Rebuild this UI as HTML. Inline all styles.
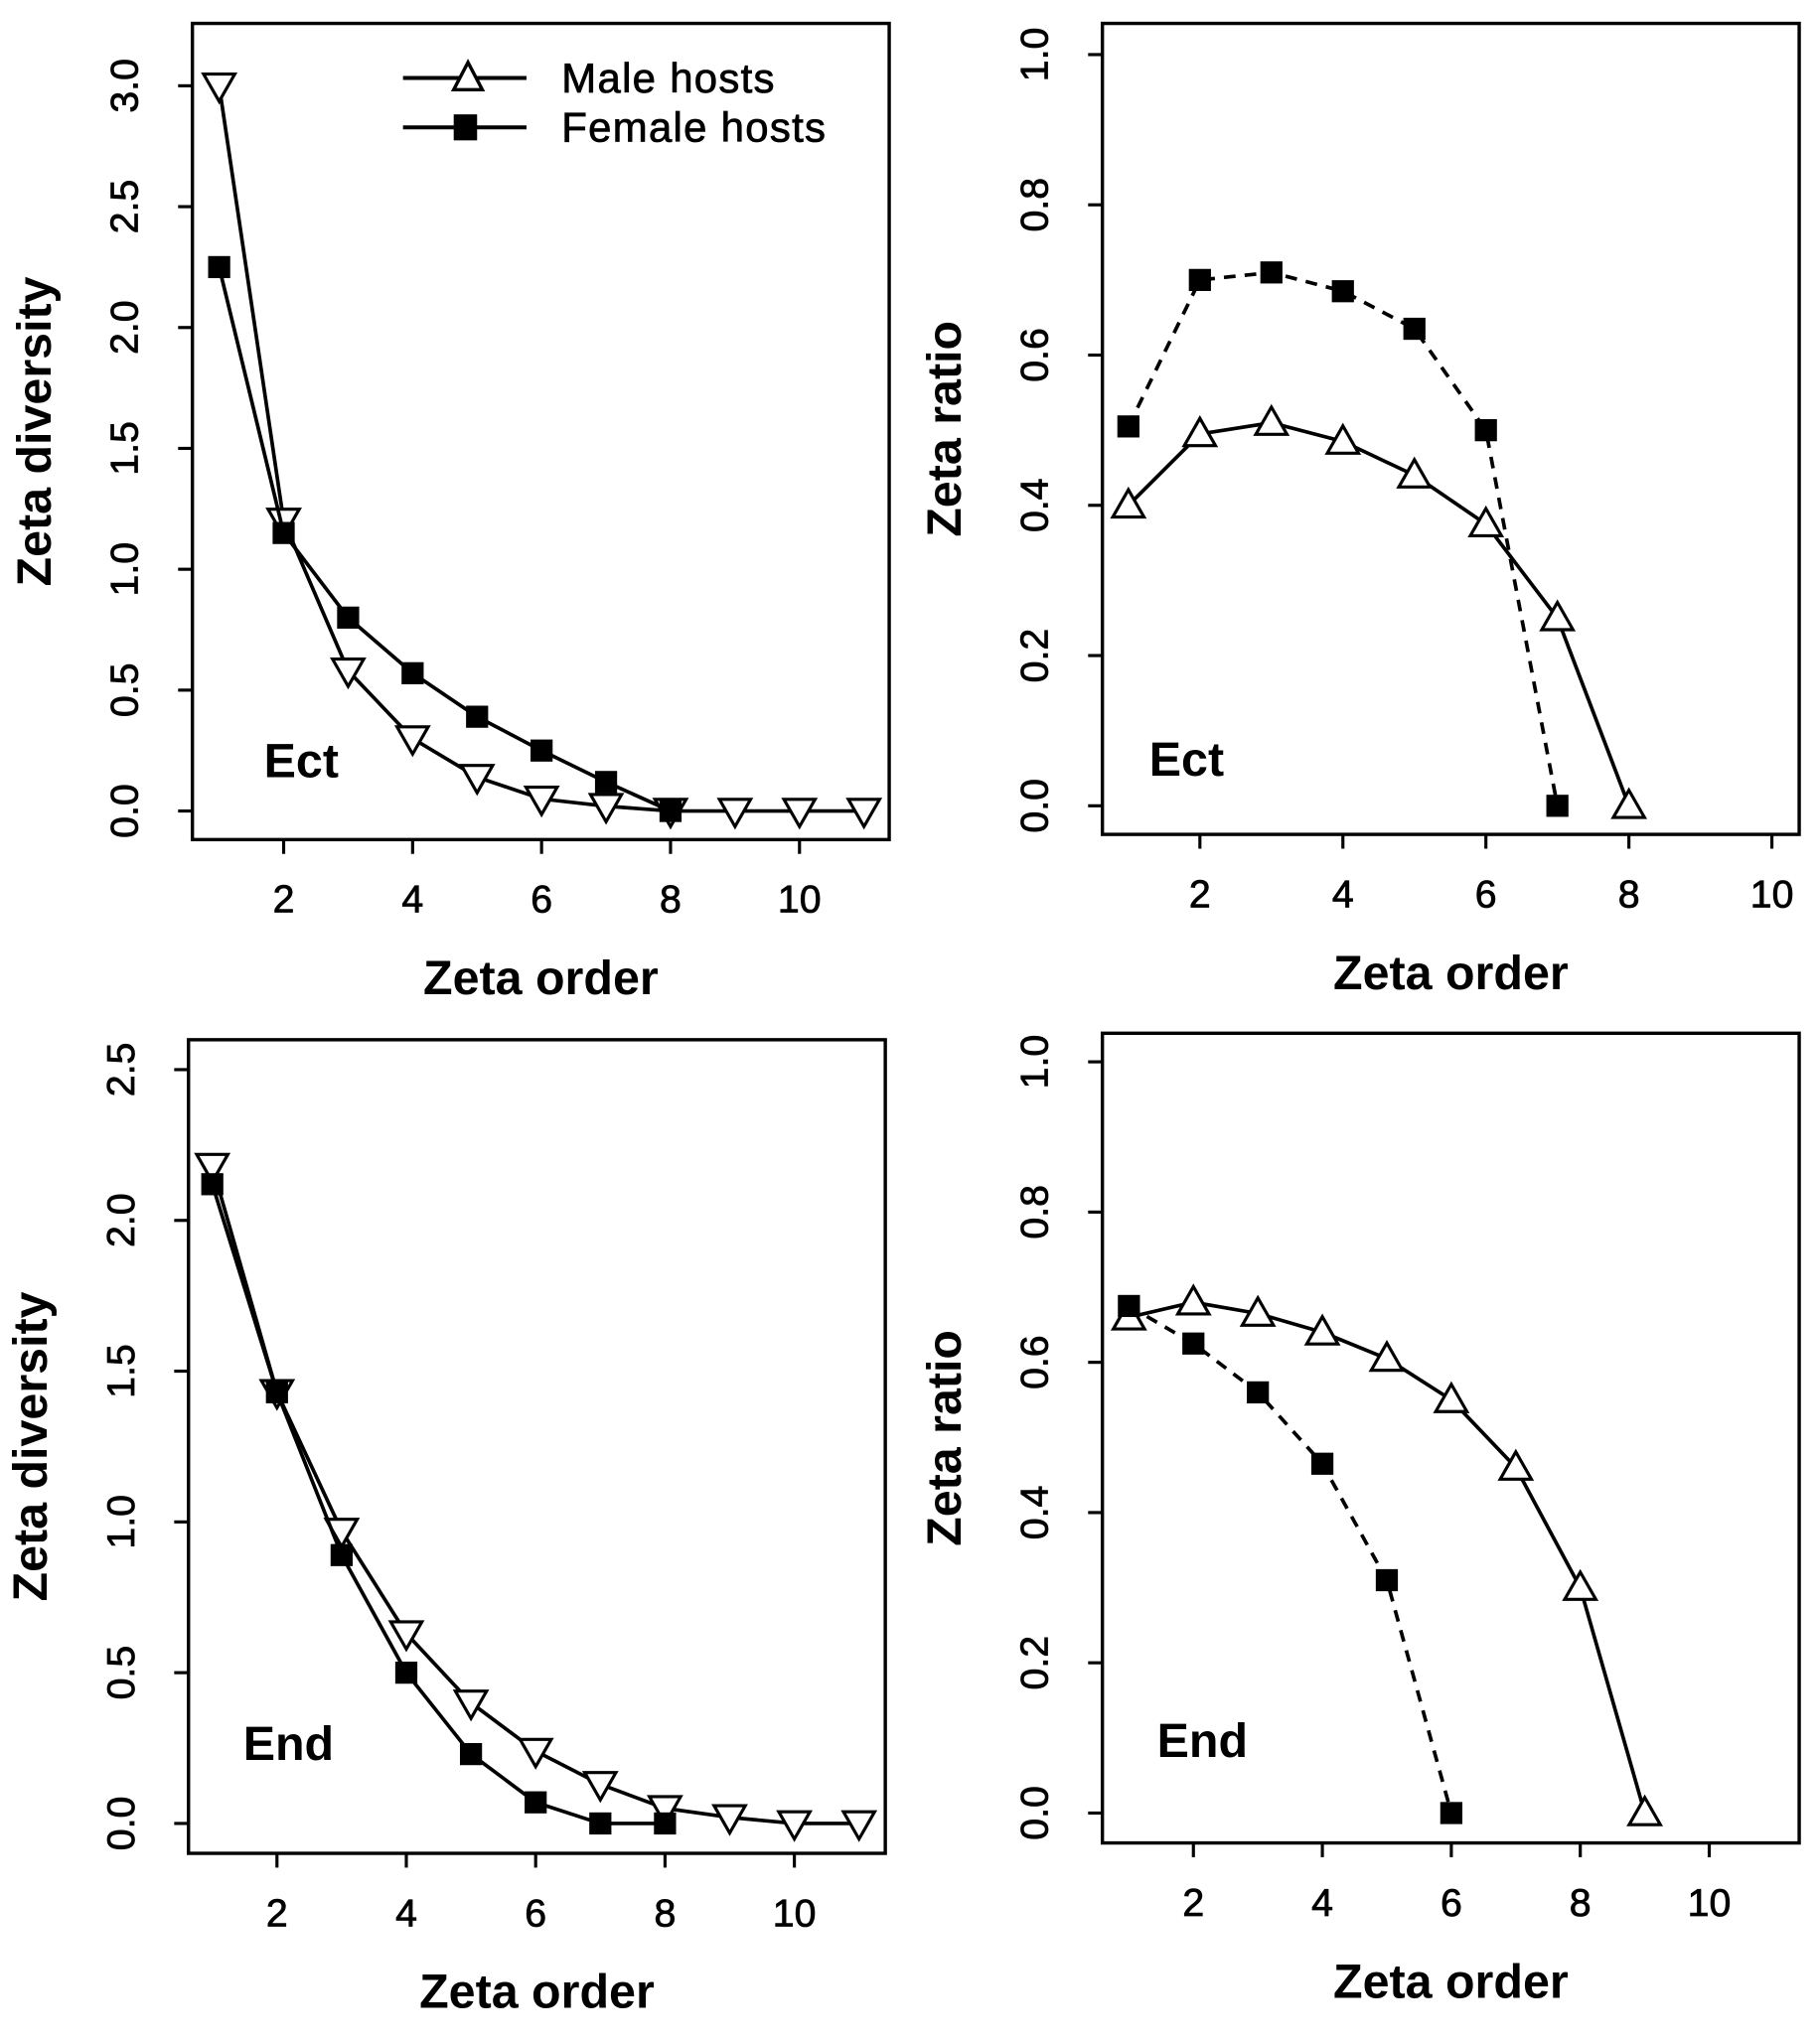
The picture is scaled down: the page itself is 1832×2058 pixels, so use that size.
<!DOCTYPE html>
<html><head><meta charset="utf-8"><style>
html,body{margin:0;padding:0;background:#fff;}
svg{display:block;}
text{font-family:"Liberation Sans",Arial,sans-serif;fill:#000;}
</style></head><body>
<svg id="chart" width="1832" height="2058" viewBox="0 0 1400 1572.7" xmlns="http://www.w3.org/2000/svg"></svg>
<script>
const orderAll = [1,2,3,4,5,6,7,8,9,10,11];
const ectDivMale = [3.0,1.2,0.58,0.3,0.14,0.05,0.02,0.0,0.0,0.0,0.0];
const ectDivFemale = [2.25,1.15,0.8,0.57,0.39,0.25,0.12,0.0];
const ectRatioMale = [0.40,0.495,0.51,0.485,0.44,0.375,0.25,0.0];
const ectRatioFemale = [0.505,0.70,0.71,0.685,0.635,0.5,0.0];
const endDivMale = [2.18,1.43,0.97,0.63,0.40,0.24,0.13,0.05,0.02,0.0,0.0];
const endDivFemale = [2.12,1.43,0.89,0.50,0.23,0.07,0.0,0.0];
const endRatioMale = [0.66,0.68,0.665,0.64,0.605,0.55,0.46,0.30,0.0];
const endRatioFemale = [0.675,0.625,0.56,0.465,0.31,0.0];
const xTicks = [2,4,6,8,10];
const divTicksEct = [0,0.5,1.0,1.5,2.0,2.5,3.0];
const divTicksEnd = [0,0.5,1.0,1.5,2.0,2.5];
const ratioTicks = [0,0.2,0.4,0.6,0.8,1.0];

const NS="http://www.w3.org/2000/svg";
const svg=document.getElementById('chart');
function mk(tag,attrs,parent){const e=document.createElementNS(NS,tag);for(const k in attrs)e.setAttribute(k,attrs[k]);(parent||svg).appendChild(e);return e;}

function panel(p){
  const g=mk('g',{});
  
  
  const sx=v=>p.x1+(v-1)*p.xu;
  const sy=v=>p.y0-v*p.yu;
  const box=mk('rect',{x:p.L,y:p.T,width:p.R-p.L,height:p.B-p.T,fill:'none',stroke:'#000','stroke-width':2.6},g);
  
  
  xTicks.forEach(t=>{
    mk('line',{x1:sx(t),x2:sx(t),y1:p.B,y2:p.B+11,stroke:'#000','stroke-width':2.4},g);
    const tx=mk('text',{x:sx(t),y:p.B+56,'font-size':30,'text-anchor':'middle',stroke:'#000','stroke-width':0.6},g);
    tx.textContent=t;
    
    
  });
  p.yt.forEach(t=>{
    mk('line',{x1:p.L-11,x2:p.L,y1:sy(t),y2:sy(t),stroke:'#000','stroke-width':2.4},g);
    const tx=mk('text',{x:0,y:0,'font-size':30,'text-anchor':'middle',stroke:'#000','stroke-width':0.6,transform:`translate(${p.L-42},${sy(t)}) rotate(-90)`},g);
    tx.textContent=t.toFixed(1);
    
    
  });
  const xl=mk('text',{x:(p.L+p.R)/2,y:p.B+119,'font-size':37,'font-weight':'bold','text-anchor':'middle'},g);
  xl.textContent='Zeta order';
  
  
  const yl=mk('text',{x:0,y:0,'font-size':37,'font-weight':'bold','text-anchor':'middle',transform:`translate(${p.L-109},${(p.T+p.B)/2}) rotate(-90)`},g);
  yl.textContent=p.ylab;
  
  
  const lab=mk('text',{x:p.labX,y:p.labY,'font-size':37,'font-weight':'bold'},g);
  lab.textContent=p.lab;
  
  
  function series(vals,dash,marker,name){
    const pts=vals.map((v,i)=>[sx(orderAll[i]),sy(v)]);
    const pl=mk('polyline',{points:pts.map(q=>q.join(',')).join(' '),fill:'none',stroke:'#000','stroke-width':2.8,'stroke-dasharray':dash?'9,7':'none'},g);
    
    
    pts.forEach(([x,y])=>{
      let m;
      if(marker==='sq'){m=mk('rect',{x:x-8.5,y:y-8.5,width:17,height:17,fill:'#000'},g);}
      else if(marker==='down'){m=mk('polygon',{points:`${x-12},${y-9} ${x+12},${y-9} ${x},${y+12}`,fill:'#fff',stroke:'#000','stroke-width':2.4},g);}
      else {m=mk('polygon',{points:`${x-12},${y+9} ${x+12},${y+9} ${x},${y-12}`,fill:'#fff',stroke:'#000','stroke-width':2.4},g);}
      
      
    });
  }
  p.series.forEach(s=>series(s.v,s.dash,s.m,s.n));
  return g;
}

panel({name:'panel-ect-diversity',L:148,R:684,T:18,B:646,x1:168.6,xu:49.6,y0:624,yu:186,yt:divTicksEct,ylab:'Zeta diversity',lab:'Ect',labX:203,labY:598,
  series:[{v:ectDivMale,dash:false,m:'down',n:'male'},{v:ectDivFemale,dash:false,m:'sq',n:'female'}]});
panel({name:'panel-ect-ratio',L:848,R:1384,T:18,B:642,x1:868,xu:55,y0:620,yu:578,yt:ratioTicks,ylab:'Zeta ratio',lab:'Ect',labX:884,labY:597,
  series:[{v:ectRatioMale,dash:false,m:'up',n:'male'},{v:ectRatioFemale,dash:true,m:'sq',n:'female'}]});
panel({name:'panel-end-diversity',L:145,R:681,T:800,B:1426,x1:163.3,xu:49.75,y0:1403,yu:232,yt:divTicksEnd,ylab:'Zeta diversity',lab:'End',labX:187,labY:1354,
  series:[{v:endDivMale,dash:false,m:'down',n:'male'},{v:endDivFemale,dash:false,m:'sq',n:'female'}]});
panel({name:'panel-end-ratio',L:848,R:1384,T:795,B:1418,x1:868.4,xu:49.6,y0:1395,yu:578,yt:ratioTicks,ylab:'Zeta ratio',lab:'End',labX:890,labY:1352,
  series:[{v:endRatioMale,dash:false,m:'up',n:'male'},{v:endRatioFemale,dash:true,m:'sq',n:'female'}]});

const lg=mk('g',{});


[[60,'up','Male hosts'],[98,'sq','Female hosts']].forEach(([y,m,t])=>{
  const e=mk('g',{},lg);
  
  
  mk('line',{x1:310,x2:405,y1:y,y2:y,stroke:'#000','stroke-width':3},e);
  if(m==='sq')mk('rect',{x:349,y:y-10,width:18,height:20,fill:'#000'},e);
  else mk('polygon',{points:`349,${y+9} 371,${y+9} 360,${y-12}`,fill:'#fff',stroke:'#000','stroke-width':2.6},e);
  const tx=mk('text',{x:432,y:y+11,'font-size':32,'letter-spacing':1,stroke:'#000','stroke-width':0.6},e);
  tx.textContent=t;
});
</script>
</body></html>
